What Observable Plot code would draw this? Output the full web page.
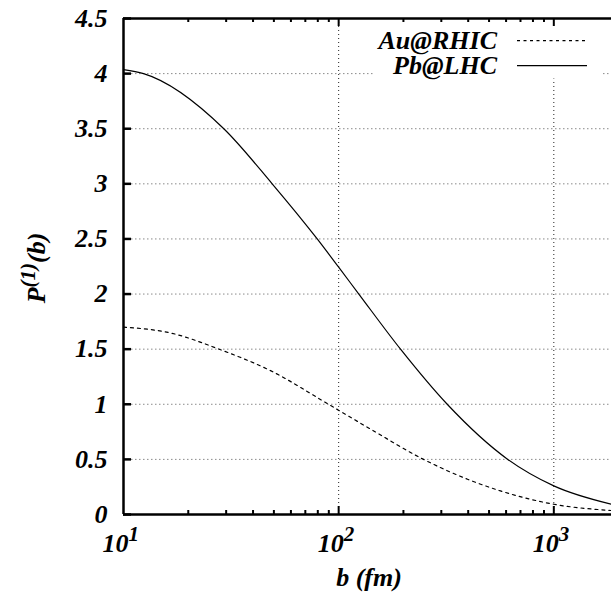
<!DOCTYPE html>
<html>
<head>
<meta charset="utf-8">
<script src="https://cdn.jsdelivr.net/npm/d3@7"></script>
<script src="https://cdn.jsdelivr.net/npm/@observablehq/plot@0.6"></script>
</head>
<body style="margin:0;background:white">
<div id="chart" style="position:relative;width:611px;height:597px"></div>
<script>
// ---- data ----
const seriesNames = ["Au@RHIC", "Pb@LHC"];

const bRHIC = [10, 16.54, 28.24, 48.23, 89.7, 140.6, 248, 397, 565, 1000, 1854];
const pRHIC = [1.70, 1.647, 1.495, 1.305, 1.0, 0.775, 0.5, 0.32, 0.214, 0.093, 0.036];

const bLHC = [10, 12.39, 29.26, 49.1, 79.5, 100, 124.1, 193.9, 319.6, 611.2, 1000, 1854];
const pLHC = [4.036, 4.0, 3.5, 3.0, 2.5, 2.244, 2.0, 1.5, 1.0, 0.5, 0.26, 0.093];

const yTicks = [0, 0.5, 1, 1.5, 2, 2.5, 3, 3.5, 4, 4.5];
const yGrid = [0.5, 1, 1.5, 2, 2.5, 3, 3.5, 4];
const xMajor = [10, 100, 1000];
const xMinor = [20, 30, 40, 50, 60, 70, 80, 90, 200, 300, 400, 500, 600, 700, 800, 900];
const xDomain = [10, 1854];
const yDomain = [0, 4.5];

// ---- layout ----
const W = 611, H = 597;
const mL = 123, mR = 0, mT = 18, mB = 83;
const plotW = W - mL - mR, plotH = H - mT - mB;
const FONT = "Liberation Serif";
const FS = 26;
const FONT_CSS = "font-family: 'Liberation Serif', serif; font-weight: bold; font-style: italic;";

const rhic = bRHIC.map((b, i) => ({b, p: pRHIC[i]}));
const lhc = bLHC.map((b, i) => ({b, p: pLHC[i]}));

const legendMark = () => {
  const g = d3.create("svg:g");
  g.append("rect").attr("x", 375).attr("y", 19.5).attr("width", 228).attr("height", 59).attr("fill", "white");
  const rows = [
    {name: seriesNames[0], dash: "3,3.5", ty: 48.5, ly: 40.7},
    {name: seriesNames[1], dash: null, ty: 73.5, ly: 65.7}
  ];
  for (const r of rows) {
    g.append("text").attr("x", 497).attr("y", r.ty).attr("text-anchor", "end").attr("font-size", FS).text(r.name);
    const l = g.append("line").attr("x1", 517).attr("x2", 587).attr("y1", r.ly).attr("y2", r.ly)
      .attr("stroke", "black").attr("stroke-width", 1.2);
    if (r.dash) l.attr("stroke-dasharray", r.dash);
  }
  return g.node();
};

const textOpts = {fontFamily: FONT, fontWeight: "bold", fontStyle: "italic", fill: "black"};

const chart = Plot.plot({
  width: W,
  height: H,
  marginLeft: mL,
  marginRight: mR,
  marginTop: mT,
  marginBottom: mB,
  x: {type: "log", domain: xDomain, axis: null},
  y: {axis: null, domain: yDomain},
  marks: [
    Plot.ruleY(yGrid, {y: d => d, stroke: "#8a8a8a", strokeWidth: 1, strokeDasharray: "1.5,2.5"}),
    Plot.ruleX(xMajor.slice(1), {x: d => d, stroke: "#222", strokeWidth: 1, strokeDasharray: "1,3"}),
    legendMark,
    Plot.line(rhic, {x: "b", y: "p", stroke: "black", strokeWidth: 1.2, strokeDasharray: "3,4", curve: "monotone-x"}),
    Plot.line(lhc, {x: "b", y: "p", stroke: "black", strokeWidth: 1.2, curve: "monotone-x"}),
    // frame
    Plot.ruleX([xDomain[0]], {x: d => d, stroke: "black", strokeWidth: 2.5}),
    Plot.ruleY([yDomain[0]], {y: d => d, stroke: "black", strokeWidth: 2.5}),
    Plot.ruleY([yDomain[1]], {y: d => d, stroke: "black", strokeWidth: 2.5}),
    // inward ticks
    Plot.tickY(yTicks, {y: d => d, stroke: "black", strokeWidth: 2.5, insetRight: plotW - 8}),
    Plot.tickX(xMinor, {x: d => d, stroke: "black", strokeWidth: 2, insetTop: plotH - 4}),
    Plot.tickX(xMajor.slice(1), {x: d => d, stroke: "black", strokeWidth: 2, insetTop: plotH - 8}),
    Plot.tickX(xMinor, {x: d => d, stroke: "black", strokeWidth: 2, insetBottom: plotH - 4}),
    Plot.tickX(xMajor.slice(1), {x: d => d, stroke: "black", strokeWidth: 2, insetBottom: plotH - 8}),
    // y tick labels
    Plot.text(yTicks, {y: d => d, text: d => String(d), frameAnchor: "left", textAnchor: "end", dx: -16, fontSize: FS, ...textOpts}),
    // x tick labels 10^n
    Plot.text(xMajor, {x: d => d, text: d => "10", frameAnchor: "bottom", lineAnchor: "bottom", textAnchor: "end", dx: 5, dy: 37, fontSize: FS, ...textOpts}),
    Plot.text(xMajor, {x: d => d, text: d => String(Math.round(Math.log10(d))), frameAnchor: "bottom", lineAnchor: "bottom", textAnchor: "start", dx: 5, dy: 26, fontSize: 21, ...textOpts})
  ]
});

const svg = d3.select(chart);
// y title
const yt = svg.append("text").attr("transform", "translate(45,268) rotate(-90)").attr("text-anchor", "middle").attr("font-size", FS);
yt.append("tspan").text("P");
yt.append("tspan").attr("dy", -10).attr("font-size", 21).text("(1)");
yt.append("tspan").attr("dy", 10).text("(b)");

// strip Plot's own stylesheet and class; set fonts inline on every text
svg.select("style").remove();
svg.attr("class", null).attr("font-family", FONT).attr("style", "display:block;background:white;" + FONT_CSS);
svg.selectAll("text").attr("font-family", FONT).attr("font-weight", "bold").attr("font-style", "italic")
  .attr("fill", "black").each(function() { this.setAttribute("style", FONT_CSS + "white-space:pre;"); });

const host = document.getElementById("chart");
host.appendChild(chart);

// x title as HTML text below the plot
const xt = document.createElement("div");
xt.textContent = "b (fm)";
xt.style.cssText = "position:absolute;left:0;width:" + (2 * 369) + "px;top:565px;text-align:center;font-size:" + FS + "px;line-height:1;" + FONT_CSS;
host.appendChild(xt);
</script>
</body>
</html>
